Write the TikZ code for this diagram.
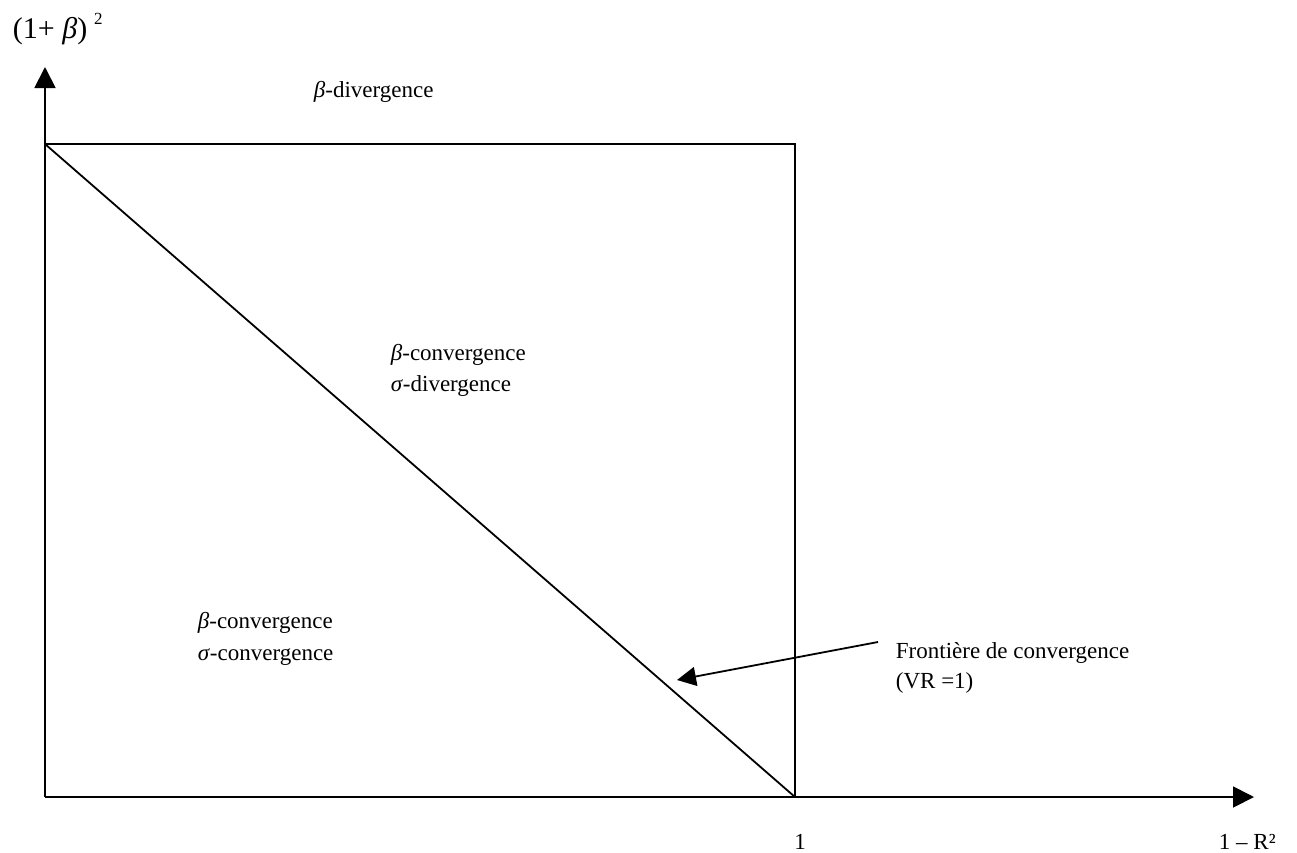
\documentclass[tikz,border=0pt]{standalone}
\usepackage{fontspec}
\setmainfont{Liberation Serif}
\usetikzlibrary{arrows.meta}
\begin{document}
\begin{tikzpicture}[x=1pt,y=-1pt,line width=1.8pt,
  lbl/.style={font=\fontsize{23}{28}\selectfont, inner sep=0pt, anchor=base west},
  axisarrow/.style={-{Triangle[length=21pt,width=21pt]}},
  notearrow/.style={-{Triangle[length=19pt,width=19pt]}}]
\useasboundingbox (0,0) rectangle (1297,852);
% frame points
\coordinate (O) at (45,797);
\coordinate (Ytop) at (45,67);
\coordinate (Xend) at (1254,797);
\coordinate (TL) at (45,144);
\coordinate (TR) at (795,144);
\coordinate (BR) at (795,797);
% axes
\draw[axisarrow] (O) -- (Ytop);
\draw[axisarrow] (O) -- (Xend);
% box and frontier
\draw (TL) -- (TR) -- (BR);
\draw (TL) -- (BR);
% labels
\node[lbl,font=\fontsize{30}{34}\selectfont] (ylab) at (12,38) {(1+ \textit{β})\hspace{7pt}\raisebox{0.45em}{\fontsize{17}{17}\selectfont 2}};
\node[lbl] (bdiv) at (313,97) {\textit{β}-divergence};
\node[lbl] (bconv1) at (390,360) {\textit{β}-convergence};
\node[lbl] (sdiv) at (390,391) {\textit{σ}-divergence};
\node[lbl] (bconv2) at (197,628) {\textit{β}-convergence};
\node[lbl] (sconv) at (197,660) {\textit{σ}-convergence};
\node[lbl] (front) at (895,658) {Frontière de convergence};
\node[lbl] (vr) at (895,688) {(VR =1)};
\node[lbl,anchor=base] (one) at (800,849) {1};
\node[lbl] (xlab) at (1218,849) {1 – R²};
% annotation arrow
\coordinate (astart) at (878,642);
\coordinate (aend) at (677,680);
\draw[notearrow] (astart) -- (aend);
\end{tikzpicture}
\end{document}
